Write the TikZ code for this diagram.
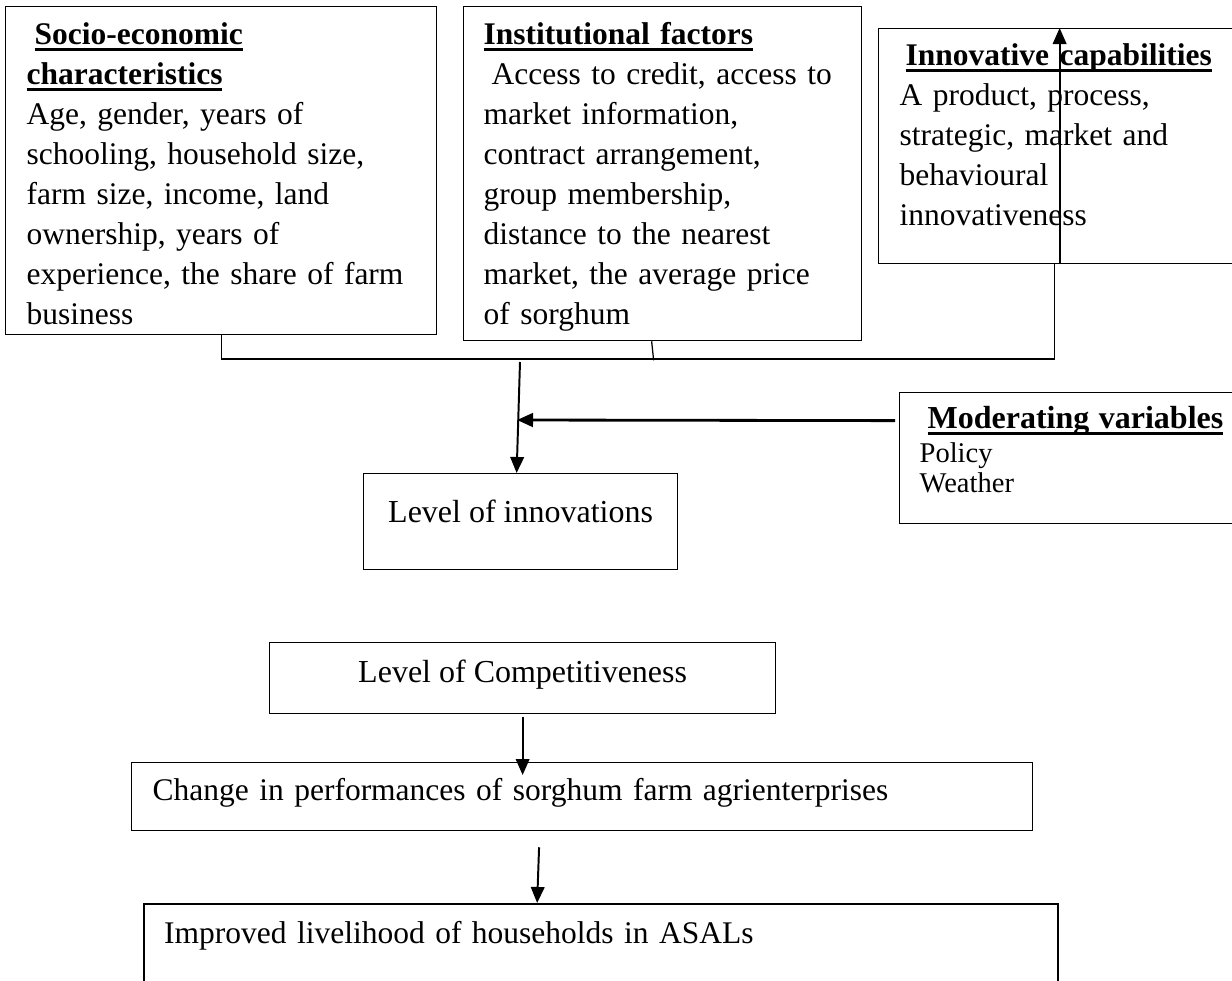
\documentclass[tikz,border=0pt]{standalone}
\usepackage{fontspec}
\setmainfont{Liberation Serif}
\usetikzlibrary{arrows.meta}

\newsavebox{\headbox}
\newcommand{\ulhead}[1]{\leavevmode\sbox{\headbox}{\bfseries #1}\rlap{\rule[-0.15cm]{\wd\headbox}{0.065cm}}\usebox{\headbox}}

\tikzset{
  factorbox/.style={draw, rectangle, line width=0.9pt, inner ysep=0pt, anchor=north west, align=left, font=\fontsize{22.4}{28.45}\selectfont},
  levelbox/.style={draw, rectangle, line width=0.9pt, inner sep=0pt, anchor=north west, font=\fontsize{22.76}{28.45}\selectfont},
  arr/.style={-{Triangle[length=0.4cm, width=0.34cm]}, line width=1.4pt}
}

\begin{document}
\begin{tikzpicture}
\useasboundingbox (0,0) rectangle (30.8,-24.5);

% Socio-economic characteristics
\node[factorbox, inner xsep=0.525cm, text width=9.725cm, text height=0.95cm, text depth=7.25cm] (socio) at (0.125,-0.15)
  {\hspace*{0.2cm}\ulhead{Socio-economic}\\ \ulhead{characteristics}\\ Age, gender, years of\\ schooling, household size,\\ farm size, income, land\\ ownership, years of\\ experience, the share of farm\\ business};
% Institutional factors
\node[factorbox, inner xsep=0.5cm, text width=8.95cm, text height=0.95cm, text depth=7.4cm] (inst) at (11.575,-0.15)
  {\ulhead{Institutional factors}\\ \hspace*{0.2cm}Access to credit, access to\\ market information,\\ contract arrangement,\\ group membership,\\ distance to the nearest\\ market, the average price\\ of sorghum};
% Innovative capabilities
\node[factorbox, inner xsep=0.525cm, text width=8.0cm, text height=0.925cm, text depth=4.95cm] (innov) at (21.95,-0.7)
  {\hspace*{0.15cm}\ulhead{Innovative capabilities}\\ A product, process,\\ strategic, market and\\ behavioural\\ innovativeness};
% Moderating variables
\node[factorbox, font=\fontsize{20.3}{21.3}\selectfont, inner xsep=0.5cm, text width=7.525cm, text height=0.9cm, text depth=2.375cm] (moder) at (22.475,-9.8)
  {\hspace*{0.2cm}{\fontsize{22.76}{28.45}\selectfont\ulhead{Moderating variables}}\\[0.1cm] Policy\\ Weather};

% Outcome chain
\node[levelbox, minimum width=7.85cm, text height=1.225cm, text depth=1.175cm] (levinno) at (9.075,-11.825) {Level of innovations};
\node[levelbox, minimum width=12.65cm, text height=1.0cm, text depth=0.775cm] (levcomp) at (6.725,-16.05) {Level of Competitiveness};
\node[factorbox, inner xsep=0.525cm, text width=21.475cm, text height=0.95cm, text depth=0.75cm] (change) at (3.275,-19.05)
  {Change in performances of sorghum farm agrienterprises};
\node[factorbox, line width=1.6pt, inner xsep=0.5cm, text width=21.85cm, text height=0.975cm, text depth=2.5cm] (improved) at (3.575,-22.575)
  {Improved livelihood of households in ASALs};

% Joining line
\coordinate (bracket) at (13.0,-8.975);
\coordinate (merge) at (13.0,-9.05);
\coordinate (meet) at (12.925,-10.5);
\draw[line width=0.9pt] (socio.south) |- (bracket) -| ([xshift=-0.125cm]innov.south);
\draw[line width=0.9pt] ([xshift=-0.275cm]inst.south) -- ++(0.05,-0.475);

% Arrows
\draw[arr] (innov.south) -- (innov.north);
\draw[arr] (merge) -- ([xshift=-0.1cm]levinno.north);
\draw[arr, line width=2pt, shorten <=0.1cm] ([yshift=0.9375cm]moder.west) -- (meet);
\draw[arr, shorten <=0.075cm, shorten >=-0.325cm] (levcomp.south) -- (levcomp.south |- change.north);
\draw[arr, shorten <=0.4cm] ([xshift=-1.0625cm]change.south) -- ([xshift=-1.6cm]improved.north);
\end{tikzpicture}
\end{document}
